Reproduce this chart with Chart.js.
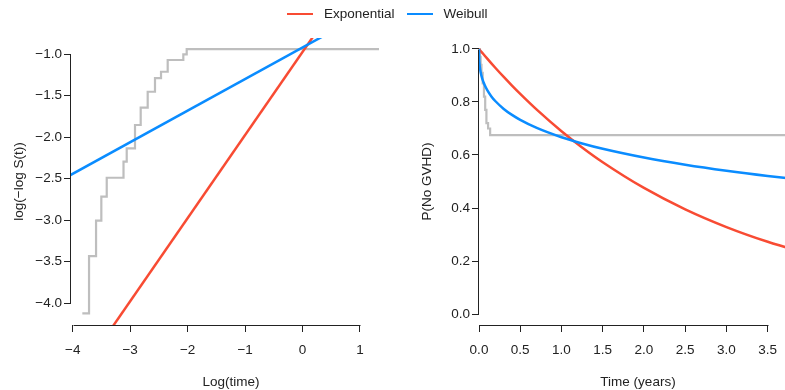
<!DOCTYPE html>
<html>
<head>
<meta charset="utf-8">
<script src="https://cdn.jsdelivr.net/npm/chart.js@4.4.1/dist/chart.umd.min.js"></script>
<style>
  html, body { margin: 0; padding: 0; background: #fff; overflow: hidden; }
  #wrap { position: relative; width: 785px; height: 390px; overflow: hidden; }
  #left { position: absolute; left: 0; top: 0; }
  #right { position: absolute; left: 400px; top: 0; }
  #legend { position: absolute; left: 287px; top: 6px; display: flex; align-items: center;
            font: 13.5px "Liberation Sans", Arial, sans-serif; color: #222; white-space: nowrap; }
  #legend .sw { display: inline-block; width: 26px; height: 2.5px; margin-right: 11px; }
  #legend .txt { margin-right: 12px; line-height: 16px; }
</style>
</head>
<body>
<div id="wrap">
  <canvas id="left" width="400" height="390"></canvas>
  <canvas id="right" width="420" height="390"></canvas>
  <div id="legend"></div>
</div>
<script>
// series names / colours
const fitNames = ['Exponential', 'Weibull'];
const fitColors = ['#F84B33', '#0A8CFF'];
const kmColor = '#BEBEBE';

// left panel: log(-log S(t)) vs log(time)
const logTimeFit = [-4.2, 1.6];
const expLogLog = [-5.175, 0.625];
const weiLogLog = [-2.517, -0.313];
const logTimeKM = [-3.833, -3.716, -3.594, -3.502, -3.408, -3.116, -3.060, -2.916, -2.817,
                   -2.695, -2.568, -2.463, -2.347, -2.075, -2.016, 1.331];
const kmLogLog = [-4.120, -3.431, -3.006, -2.717, -2.489, -2.296, -2.135, -1.854, -1.646,
                  -1.454, -1.289, -1.213, -1.072, -1.004, -0.940, -0.940];
const leftXTicks = [-4, -3, -2, -1, 0, 1];
const leftYTicks = [-4, -3.5, -3, -2.5, -2, -1.5, -1];

// right panel: survival vs time in years
const yearsFit = [0, 0.002, 0.005, 0.01, 0.02, 0.04, 0.07, 0.1, 0.15, 0.2, 0.3, 0.4, 0.5,
                  0.7, 1, 1.25, 1.5, 2, 2.5, 3, 3.5, 4];
const expSurv = [1, 0.9993, 0.9981, 0.9963, 0.9926, 0.9853, 0.9743, 0.9635, 0.9458, 0.9284,
                 0.8945, 0.8619, 0.8305, 0.7710, 0.6897, 0.6285, 0.5728, 0.4757, 0.3950,
                 0.3281, 0.2725, 0.2263];
const weiSurv = [1, 0.9626, 0.9473, 0.932, 0.9125, 0.8876, 0.8629, 0.8447, 0.8212, 0.8028,
                 0.7739, 0.7513, 0.7326, 0.7021, 0.667, 0.6435, 0.6234, 0.5904, 0.5634,
                 0.5407, 0.5210, 0.5037];
const yearsKM = [0, 0.01, 0.02, 0.03, 0.045, 0.06, 0.075, 0.09, 0.11, 0.135, 3.855];
const kmSurv = [1, 0.97, 0.94, 0.91, 0.87, 0.82, 0.77, 0.72, 0.70, 0.675, 0.675];
const rightXTicks = [0, 0.5, 1, 1.5, 2, 2.5, 3, 3.5];
const rightYTicks = [0, 0.2, 0.4, 0.6, 0.8, 1];

Chart.defaults.font.family = '"Liberation Sans", Arial, sans-serif';
Chart.defaults.font.size = 13.5;
Chart.defaults.color = '#222';

const pts = (xs, ys) => xs.map((x, i) => ({ x: x, y: ys[i] }));
const minus = s => String(s).replace('-', '\u2212');

// R style axis line: from first tick to last tick only
const rAxes = {
  id: 'rAxes',
  afterDraw(chart) {
    const ctx = chart.ctx;
    ctx.save();
    ctx.strokeStyle = '#222';
    ctx.lineWidth = 1;
    ['x', 'y'].forEach(id => {
      const s = chart.scales[id];
      const a = s.getPixelForValue(s.ticks[0].value);
      const b = s.getPixelForValue(s.ticks[s.ticks.length - 1].value);
      ctx.beginPath();
      if (id === 'x') {
        ctx.moveTo(Math.round(a) + 0.5, Math.round(s.top) + 0.5);
        ctx.lineTo(Math.round(b) + 0.5, Math.round(s.top) + 0.5);
      } else {
        ctx.moveTo(Math.round(s.right) - 0.5, Math.round(a) + 0.5);
        ctx.lineTo(Math.round(s.right) - 0.5, Math.round(b) + 0.5);
      }
      ctx.stroke();
    });
    ctx.restore();
  }
};

function panel(canvasId, datasets, cfg) {
  return new Chart(document.getElementById(canvasId), {
    type: 'line',
    data: { datasets: datasets },
    plugins: [rAxes],
    options: {
      responsive: false,
      animation: false,
      devicePixelRatio: 1,
      parsing: false,
      layout: { padding: { left: 0, top: 38, right: cfg.padRight, bottom: 0 } },
      plugins: { legend: { display: false }, tooltip: { enabled: false } },
      elements: { point: { radius: 0 } },
      scales: {
        x: {
          type: 'linear', min: cfg.xMin, max: cfg.xMax,
          afterBuildTicks: s => { s.ticks = cfg.xTicks.map(v => ({ value: v })); },
          afterFit: s => { s.height = 65; },
          ticks: { padding: 10, maxRotation: 0, autoSkip: false, callback: cfg.xFmt },
          grid: { drawOnChartArea: false, tickLength: 7, color: '#222' },
          border: { display: false },
          title: { display: true, text: cfg.xTitle, padding: { top: 0, bottom: 0 } }
        },
        y: {
          type: 'linear', min: cfg.yMin, max: cfg.yMax,
          afterBuildTicks: s => { s.ticks = cfg.yTicks.map(v => ({ value: v })); },
          afterFit: s => { s.width = cfg.yWidth; },
          ticks: { padding: 2, autoSkip: false, callback: cfg.yFmt },
          grid: { drawOnChartArea: false, tickLength: 7, color: '#222' },
          border: { display: false },
          title: { display: true, text: cfg.yTitle, padding: { top: cfg.yTitlePad, bottom: 0 } }
        }
      }
    }
  });
}

const lineDs = (label, data, color, extra) => Object.assign({
  label: label, data: data, borderColor: color, backgroundColor: color,
  borderWidth: 2.5, fill: false, tension: 0
}, extra || {});

panel('left', [
  lineDs(fitNames[1], pts(logTimeFit, weiLogLog), fitColors[1]),
  lineDs(fitNames[0], pts(logTimeFit, expLogLog), fitColors[0]),
  lineDs('KM', pts(logTimeKM, kmLogLog), kmColor, { stepped: 'before', borderWidth: 2.2 })
], {
  padRight: 9, xMin: -4.03, xMax: 1.54, yMin: -4.261, yMax: -0.807,
  xTicks: leftXTicks, yTicks: leftYTicks, yWidth: 71, yTitlePad: 11,
  xFmt: v => minus(v), yFmt: v => minus(v.toFixed(1)),
  xTitle: 'Log(time)', yTitle: 'log(\u2212log S(t))'
});

panel('right', [
  lineDs(fitNames[1], pts(yearsFit, weiSurv), fitColors[1], { cubicInterpolationMode: 'monotone' }),
  lineDs(fitNames[0], pts(yearsFit, expSurv), fitColors[0], { cubicInterpolationMode: 'monotone' }),
  lineDs('KM', pts(yearsKM, kmSurv), kmColor, { stepped: 'before', borderWidth: 2.2 })
], {
  padRight: 23, xMin: 0, xMax: 3.855, yMin: -0.0415, yMax: 1.0415,
  xTicks: rightXTicks, yTicks: rightYTicks, yWidth: 79, yTitlePad: 19,
  xFmt: v => v.toFixed(1), yFmt: v => v.toFixed(1),
  xTitle: 'Time (years)', yTitle: 'P(No GVHD)'
});

// shared legend across both panels
const legend = document.getElementById('legend');
fitNames.forEach((name, i) => {
  const sw = document.createElement('span');
  sw.className = 'sw';
  sw.style.background = fitColors[i];
  const txt = document.createElement('span');
  txt.className = 'txt';
  txt.textContent = name;
  legend.appendChild(sw);
  legend.appendChild(txt);
});
</script>
</body>
</html>
